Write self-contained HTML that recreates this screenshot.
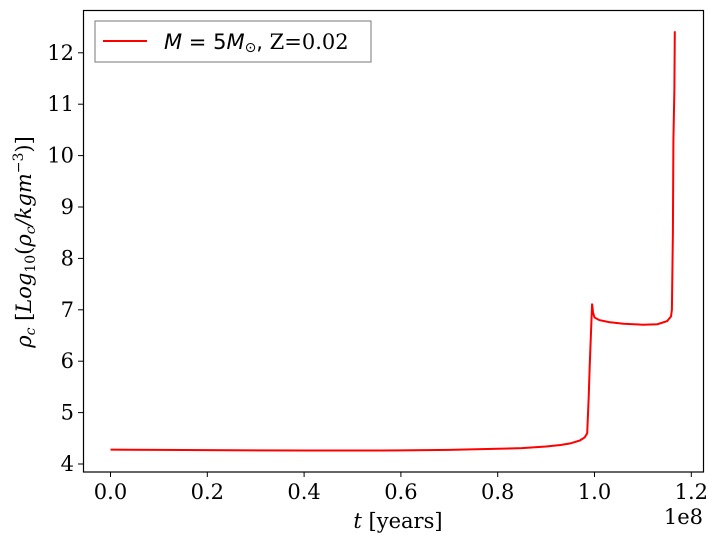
<!DOCTYPE html>
<html><head><meta charset="utf-8"><style>
body{margin:0;background:#fff;}
svg text{font-family:"DejaVu Serif","Liberation Serif",serif;font-size:21px;fill:#000;}
</style></head><body>
<svg width="718" height="545" xmlns="http://www.w3.org/2000/svg">
<g id="ticks"></g>
<path id="line" fill="none" stroke="#ff0000" stroke-width="2"/>
<rect x="83.5" y="10.5" width="620" height="461.5" fill="none" stroke="#000" stroke-width="1.2"/>
<g>
<rect x="95" y="21" width="276" height="41" fill="#fff" stroke="#777" stroke-width="1"/>
<line x1="103" y1="41" x2="147" y2="41" stroke="#ff0000" stroke-width="2"/>
<text x="164" y="49" style="font-family:'DejaVu Sans',sans-serif;font-size:21px"><tspan font-style="italic">M</tspan> = 5<tspan font-style="italic">M</tspan><tspan font-size="14" dy="3">⊙</tspan><tspan dy="-3">, </tspan><tspan style="font-family:'DejaVu Serif',serif">Z=0.02</tspan></text>
</g>
<text x="398" y="528" text-anchor="middle"><tspan font-style="italic">t</tspan> [years]</text>
<text x="703" y="524" text-anchor="end">1e8</text>
<text transform="translate(31,242) rotate(-90)" text-anchor="middle"><tspan font-style="italic">ρ</tspan><tspan font-style="italic" font-size="14" dy="4">c</tspan><tspan dy="-4"> [</tspan><tspan font-style="italic">Log</tspan><tspan font-size="14" dy="4">10</tspan><tspan dy="-4">(</tspan><tspan font-style="italic">ρ</tspan><tspan font-style="italic" font-size="14" dy="4">c</tspan><tspan dy="-4" font-style="italic">/kgm</tspan><tspan font-size="14" dy="-8">−3</tspan><tspan dy="8">)]</tspan></text>
</svg>
<script>
const xTicks=[0.0,0.2,0.4,0.6,0.8,1.0,1.2];
const yTicks=[4,5,6,7,8,9,10,11,12];
const tVals=[0,0.1,0.2,0.3,0.4,0.5,0.6,0.7,0.8,0.85,0.9,0.93,0.95,0.97,0.98,0.985,0.988,0.99,0.995,0.997,1.0,1.01,1.03,1.06,1.1,1.13,1.15,1.158,1.16,1.162,1.163,1.165,1.166];
const rhoVals=[4.28,4.275,4.27,4.265,4.262,4.262,4.265,4.275,4.295,4.31,4.34,4.37,4.4,4.46,4.52,4.6,5.3,5.9,7.12,6.95,6.85,6.8,6.76,6.73,6.71,6.72,6.78,6.87,7.0,8.5,10.3,11.3,12.42];
const X=v=>110.5+v*484;
const Y=v=>464-(v-4)*51.4;
const g=document.getElementById('ticks');
const NS='http://www.w3.org/2000/svg';
xTicks.forEach(v=>{
 const l=document.createElementNS(NS,'line');
 
 
 l.setAttribute('x1',X(v));l.setAttribute('x2',X(v));l.setAttribute('y1',472);l.setAttribute('y2',477);l.setAttribute('stroke','#000');
 g.appendChild(l);
 const t=document.createElementNS(NS,'text');
 
 
 t.setAttribute('x',X(v));t.setAttribute('y',499);t.setAttribute('text-anchor','middle');t.textContent=v.toFixed(1);
 g.appendChild(t);
});
yTicks.forEach(v=>{
 const l=document.createElementNS(NS,'line');
 
 
 l.setAttribute('x1',78);l.setAttribute('x2',83.5);l.setAttribute('y1',Y(v));l.setAttribute('y2',Y(v));l.setAttribute('stroke','#000');
 g.appendChild(l);
 const t=document.createElementNS(NS,'text');
 
 
 t.setAttribute('x',74);t.setAttribute('y',Y(v)+7);t.setAttribute('text-anchor','end');t.textContent=v;
 g.appendChild(t);
});
document.getElementById('line').setAttribute('d',tVals.map((t,i)=>(i?'L':'M')+X(t).toFixed(1)+','+Y(rhoVals[i]).toFixed(1)).join(''));
</script>
</body></html>
